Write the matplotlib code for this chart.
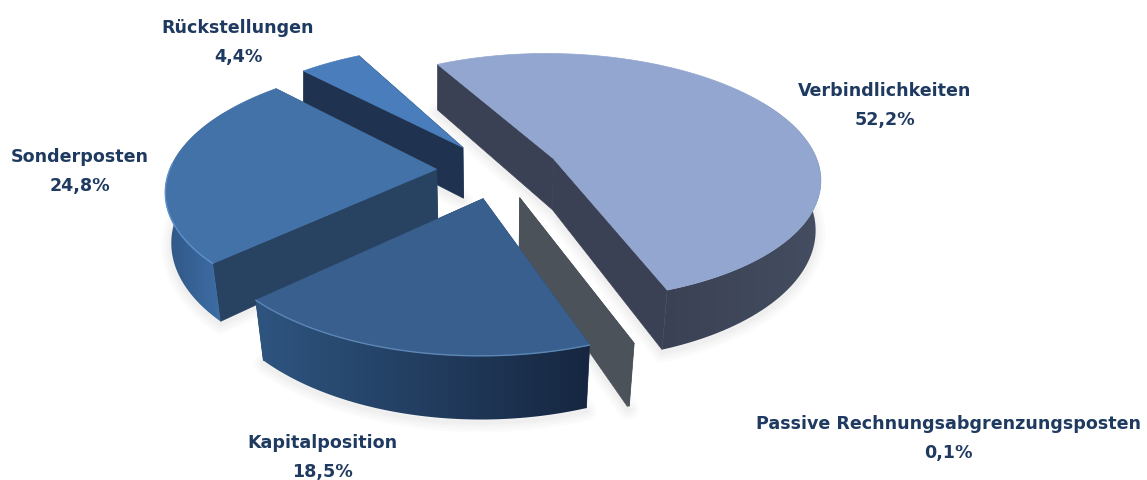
import matplotlib
matplotlib.use("Agg")
import matplotlib.pyplot as plt
import numpy as np
from matplotlib.colors import to_rgb
from matplotlib.patches import Polygon

# shares in percent, clockwise from the first slice
names = ["Verbindlichkeiten", "Passive Rechnungsabgrenzungsposten", "Kapitalposition", "Sonderposten", "Rückstellungen"]
shares = [52.2, 0.1, 18.5, 24.8, 4.4]

# slice styling
top_colors = ["#92A6CF", "#4B5259", "#395F8E", "#4272A8", "#4A7DBB"]
cut_colors = ["#3B4154", "#4B5259", "#28415F", "#284261", "#1F3350"]
rim_start = ["#444D61", "#4B5259", "#162640", "#305685", "#3A6AA0"]
rim_end = ["#3B4154", "#4B5259", "#2E5580", "#3F70A8", "#3A6AA0"]
edge_colors = [None, None, "#5C86B4", "#5F90C8", None]
label_pos = [(885, 91), (948, 424), (322, 443), (80, 157), (238, 28)]
draw_order = [4, 0, 3, 1, 2]

# projection of the tilted pie
CX, CY = 498, 170
RX, RY = 267, 124
PERSP = 0.15
DEPTH = 52
EXPLODE = 0.23
START = -28.0


def project(x, y, lower=False):
    s = 1 / (1 + PERSP * y)
    px = RX * x * s
    py = RY * y * s
    if lower:
        # the lower disc pulls in a little more towards the viewer
        return CX + px * (0.985 + 0.018 * y), CY - py + DEPTH * s
    return CX + px, CY - py


def slice_points(t0, t1, n=120):
    mid = np.radians((t0 + t1) / 2)
    ox, oy = EXPLODE * np.sin(mid), EXPLODE * np.cos(mid)
    th = np.radians(np.linspace(t0, t1, n))
    return ox, oy, ox + np.sin(th), oy + np.cos(th), th


fig = plt.figure(figsize=(11.47, 4.8), dpi=100)
ax = fig.add_axes([0, 0, 1, 1])
edges = np.cumsum([0] + shares) * 3.6 + START

z = 1
for i in draw_order:
    t0, t1 = edges[i], edges[i + 1]
    ox, oy, arc_x, arc_y, th = slice_points(t0, t1)
    top_x, top_y = project(arc_x, arc_y)
    low_x, low_y = project(arc_x, arc_y, lower=True)
    tip = project(ox, oy)
    tip_low = project(ox, oy, lower=True)

    # soft shadow under the slice
    ground = np.column_stack([np.r_[tip_low[0], low_x], np.r_[tip_low[1], low_y]])
    for w in (14, 10, 6, 3):
        z += 1
        ax.add_patch(Polygon(ground + [0, 3], closed=True, fc="none", ec="#606060", lw=w, alpha=0.025, joinstyle="round", zorder=z))

    # cut faces, the one further back goes first
    for k in sorted([0, -1], key=lambda k: -arc_y[k]):
        z += 1
        quad = [(top_x[k], top_y[k]), tip, tip_low, (low_x[k], low_y[k])]
        ax.add_patch(Polygon(quad, closed=True, fc=cut_colors[i], ec=cut_colors[i], lw=0.5, zorder=z))

    # outer rim, filled with a horizontal colour ramp; the top face hides its upper part
    front = np.cos(th) < 0.5
    if front.sum() > 1:
        z += 1
        rim = np.column_stack([np.r_[top_x[front], low_x[front][::-1]], np.r_[top_y[front], low_y[front][::-1]]])
        x0, x1 = rim[:, 0].min(), rim[:, 0].max()
        ramp = np.linspace(0, 1, 256)[:, None]
        c0, c1 = np.array(to_rgb(rim_start[i])), np.array(to_rgb(rim_end[i]))
        colors = c0 + (c1 - c0) * ramp
        if top_x[front][0] > top_x[front][-1]:
            colors = colors[::-1]
        im = ax.imshow(colors[None, :, :], extent=(x0, x1, 480, 0), aspect="auto", zorder=z)
        outline = Polygon(rim, closed=True, transform=ax.transData, fc="none", ec="none")
        ax.add_patch(outline)
        im.set_clip_path(outline)

    # top face
    z += 1
    face = np.column_stack([np.r_[tip[0], top_x], np.r_[tip[1], top_y]])
    ax.add_patch(Polygon(face, closed=True, fc=top_colors[i], ec=top_colors[i], lw=0.5, zorder=z))

    # light bevel along the visible rim
    if edge_colors[i]:
        z += 1
        seen = np.cos(th) < 0.05
        ax.plot(top_x[seen], top_y[seen], color=edge_colors[i], lw=1.0, solid_capstyle="round", zorder=z)

for name, share, (lx, ly) in zip(names, shares, label_pos):
    value = f"{share:.1f}%".replace(".", ",")
    for text, dy in ((name, 0), (value, 29)):
        ax.text(lx, ly + dy, text, ha="center", va="center", fontsize=12.6, fontweight="bold", family="DejaVu Sans", color="#1F3A60", zorder=z + 1)

ax.set_xlim(0, 1147)
ax.set_ylim(480, 0)
ax.axis("off")
fig.savefig("out.png", dpi=100)
